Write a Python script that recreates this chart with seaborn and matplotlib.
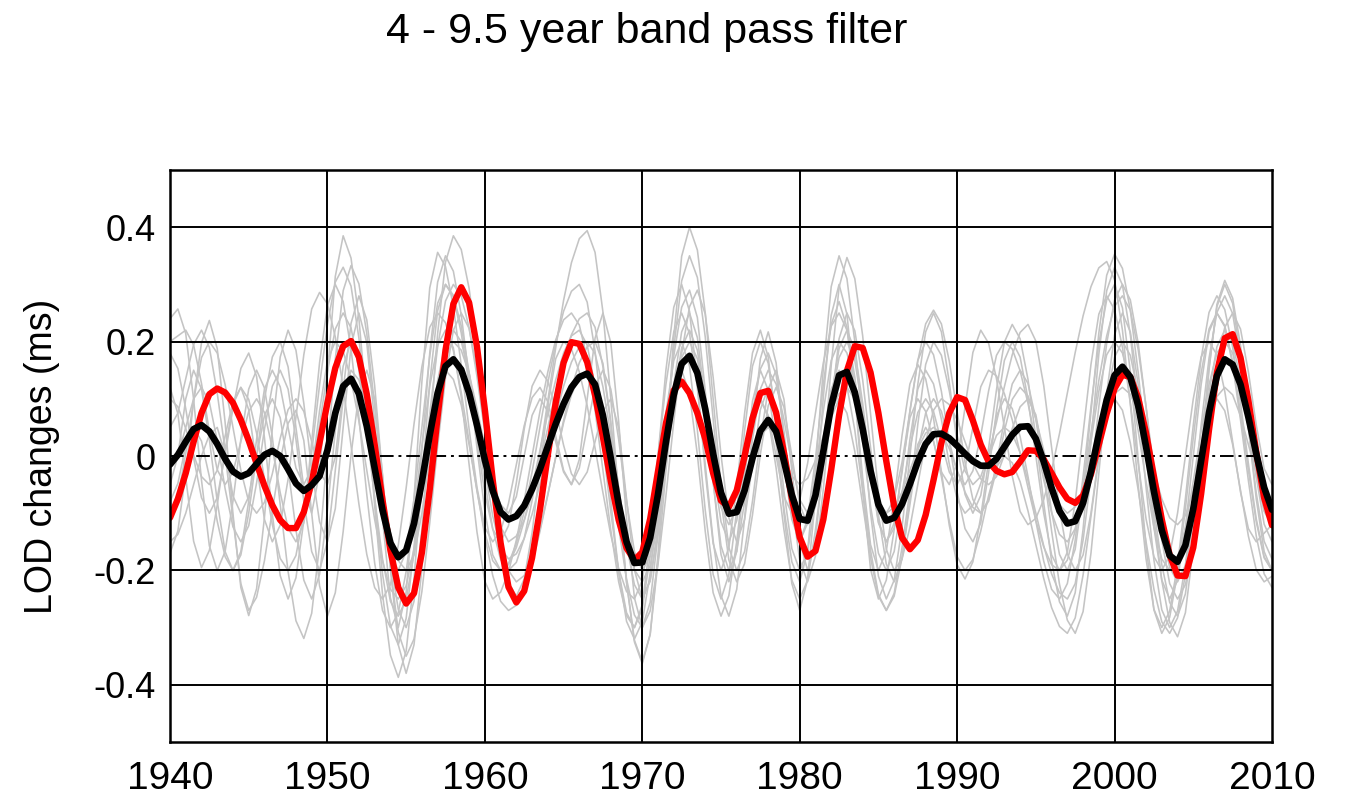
import numpy as np
import pandas as pd
import matplotlib
matplotlib.use("Agg")
import matplotlib.pyplot as plt
import seaborn as sns

# ---------------------------------------------------------------------------
# Band-passed (4 - 9.5 yr) LOD changes, sampled every half year, 1940-2010
# ---------------------------------------------------------------------------
START_YEAR = 1940.0
STEP = 0.5

# Ensemble mean (black)
lod_mean = [
    -0.015, 0.002, 0.025, 0.047, 0.054, 0.043, 0.021, -0.005, -0.027, -0.036,
    -0.030, -0.014, 0.002, 0.009, 0.000, -0.023, -0.048, -0.061, -0.051, -0.035,
    0.010, 0.075, 0.122, 0.135, 0.109, 0.052, -0.022, -0.095, -0.152, -0.177,
    -0.165, -0.118, -0.045, 0.037, 0.110, 0.157, 0.169, 0.151, 0.110, 0.054,
    -0.007, -0.061, -0.098, -0.111, -0.105, -0.087, -0.058, -0.023, 0.017, 0.056,
    0.091, 0.120, 0.138, 0.144, 0.125, 0.071, -0.004, -0.084, -0.150, -0.187,
    -0.186, -0.143, -0.067, 0.024, 0.107, 0.161, 0.175, 0.145, 0.082, 0.004,
    -0.064, -0.101, -0.098, -0.060, -0.004, 0.044, 0.063, 0.043, -0.009, -0.068,
    -0.110, -0.113, -0.069, 0.008, 0.088, 0.141, 0.147, 0.111, 0.047, -0.026,
    -0.085, -0.113, -0.108, -0.084, -0.049, -0.010, 0.021, 0.038, 0.039, 0.031,
    0.018, 0.004, -0.009, -0.017, -0.017, -0.005, 0.016, 0.037, 0.051, 0.052,
    0.030, -0.010, -0.056, -0.096, -0.118, -0.114, -0.082, -0.027, 0.038, 0.098,
    0.141, 0.156, 0.138, 0.088, 0.016, -0.062, -0.130, -0.174, -0.185, -0.156,
    -0.092, -0.008, 0.076, 0.140, 0.169, 0.160, 0.125, 0.068, 0.004, -0.055,
    -0.094,
]

# Observed LOD (red)
lod_observed = [
    -0.108, -0.075, -0.030, 0.025, 0.075, 0.108, 0.118, 0.111, 0.093, 0.063,
    0.027, -0.013, -0.052, -0.086, -0.112, -0.126, -0.126, -0.098, -0.046, 0.023,
    0.093, 0.154, 0.192, 0.201, 0.173, 0.108, 0.020, -0.077, -0.165, -0.230,
    -0.258, -0.240, -0.169, -0.058, 0.069, 0.185, 0.266, 0.295, 0.268, 0.191,
    0.081, -0.042, -0.152, -0.229, -0.256, -0.236, -0.178, -0.094, 0.002, 0.093,
    0.163, 0.199, 0.196, 0.164, 0.106, 0.033, -0.044, -0.112, -0.161, -0.182,
    -0.168, -0.110, -0.027, 0.057, 0.115, 0.130, 0.110, 0.075, 0.030, -0.030,
    -0.078, -0.089, -0.060, 0.000, 0.066, 0.110, 0.114, 0.076, 0.006, -0.074,
    -0.142, -0.176, -0.166, -0.111, -0.024, 0.071, 0.149, 0.192, 0.189, 0.146,
    0.075, -0.009, -0.088, -0.143, -0.163, -0.147, -0.103, -0.042, 0.023, 0.075,
    0.103, 0.098, 0.062, 0.020, -0.010, -0.026, -0.032, -0.028, -0.010, 0.010,
    0.009, -0.006, -0.030, -0.055, -0.075, -0.082, -0.069, -0.032, 0.020, 0.074,
    0.118, 0.142, 0.138, 0.102, 0.040, -0.036, -0.111, -0.173, -0.209, -0.210,
    -0.160, -0.066, 0.046, 0.146, 0.206, 0.213, 0.172, 0.097, 0.007, -0.073,
    -0.121,
]

# Individual ensemble members (grey)
member_01 = [
    -0.05, 0.00, 0.10, 0.15, 0.117, 0.029, -0.079, -0.167, -0.20,
    -0.173, -0.10, 0.00, 0.10, 0.173, 0.20, 0.156, 0.05, -0.056, -0.10,
    -0.029, 0.143, 0.314, 0.385, 0.346, 0.240, 0.085, -0.087, -0.242, -0.348, -0.387,
    -0.341, -0.215, -0.044, 0.128, 0.254, 0.30,
    0.281, 0.227, 0.146, 0.05, -0.046, -0.127, -0.181, -0.20,
    -0.186, -0.144, -0.078, 0.005, 0.097, 0.189, 0.272, 0.338, 0.380, 0.394,
    0.356, 0.252, 0.100, -0.069, -0.221, -0.325, -0.363,
    -0.312, -0.172, 0.019, 0.209, 0.349, 0.40,
    0.36, 0.25, 0.10, -0.05, -0.16, -0.20,
    -0.167, -0.079, 0.029, 0.117, 0.15, 0.099, -0.025, -0.149, -0.20,
    -0.148, -0.011, 0.158, 0.295, 0.347, 0.310, 0.210, 0.074, -0.063, -0.163, -0.20,
    -0.18, -0.125, -0.05, 0.025, 0.08, 0.10, 0.09, 0.063, 0.025, -0.013, -0.04, -0.05,
    -0.036, 0.002, 0.048, 0.086, 0.10, 0.072, -0.004, -0.097, -0.172, -0.20,
    -0.163, -0.062, 0.077, 0.215, 0.316, 0.353,
    0.328, 0.255, 0.146, 0.019, -0.109, -0.218, -0.291, -0.316,
    -0.274, -0.160, -0.005, 0.151, 0.265, 0.307,
    0.276, 0.193, 0.079, -0.036, -0.119, -0.15,
]
member_02 = [
    0.24, 0.257, 0.214, 0.099, -0.042, -0.157, -0.20,
    -0.167, -0.079, 0.029, 0.117, 0.15,
    0.119, 0.033, -0.085, -0.202, -0.288, -0.319,
    -0.275, -0.156, 0.007, 0.170, 0.289, 0.333,
    0.301, 0.214, 0.087, -0.054, -0.181, -0.268, -0.30,
    -0.254, -0.129, 0.043, 0.214, 0.339, 0.385,
    0.361, 0.293, 0.190, 0.07, -0.050, -0.153, -0.221, -0.245,
    -0.215, -0.134, -0.023, 0.089, 0.170, 0.20,
    0.187, 0.147, 0.088, 0.014, -0.064, -0.138, -0.197, -0.237, -0.25,
    -0.217, -0.125, 0.0, 0.125, 0.217, 0.25,
    0.214, 0.118, -0.015, -0.148, -0.244, -0.28,
    -0.233, -0.109, 0.046, 0.170, 0.217, 0.163, 0.034, -0.096, -0.15,
    -0.117, -0.029, 0.079, 0.167, 0.20, 0.18, 0.125, 0.05, -0.025, -0.08, -0.10,
    -0.076, -0.011, 0.078, 0.166, 0.231, 0.255, 0.231, 0.166, 0.078, -0.011, -0.076, -0.10,
    -0.076, -0.014, 0.064, 0.126, 0.15,
    0.127, 0.064, -0.029, -0.131, -0.224, -0.287, -0.31,
    -0.272, -0.17, -0.03, 0.11, 0.212, 0.25,
    0.217, 0.125, 0.0, -0.125, -0.217, -0.25,
    -0.217, -0.125, 0.0, 0.125, 0.217, 0.25,
    0.226, 0.160, 0.063, -0.043, -0.140, -0.206, -0.23,
]
member_03 = [
    -0.17, -0.131, -0.030, 0.097, 0.198, 0.237,
    0.188, 0.059, -0.101, -0.230, -0.279,
    -0.232, -0.107, 0.048, 0.173, 0.22,
    0.185, 0.092, -0.022, -0.115, -0.15,
    -0.092, 0.05, 0.192, 0.25,
    0.198, 0.06, -0.110, -0.248, -0.30,
    -0.238, -0.074, 0.130, 0.294, 0.356,
    0.331, 0.261, 0.159, 0.047, -0.055, -0.125, -0.15,
    -0.132, -0.083, -0.015, 0.053, 0.102, 0.12,
    0.095, 0.035, -0.025, -0.05, -0.006, 0.10, 0.206, 0.25,
    0.198, 0.06, -0.110, -0.248, -0.30,
    -0.271, -0.189, -0.070, 0.060, 0.179, 0.261, 0.29,
    0.248, 0.138, 0.002, -0.108, -0.15,
    -0.111, -0.015, 0.081, 0.12, 0.081, -0.015, -0.111, -0.15,
    -0.110, -0.005, 0.125, 0.230, 0.27,
    0.225, 0.108, -0.038, -0.155, -0.20,
    -0.166, -0.076, 0.036, 0.126, 0.16,
    0.135, 0.066, -0.028, -0.121, -0.19, -0.215,
    -0.185, -0.106, -0.009, 0.070, 0.10,
    0.083, 0.034, -0.036, -0.114, -0.184, -0.233, -0.25,
    -0.223, -0.147, -0.036, 0.086, 0.197, 0.273, 0.30,
    0.259, 0.148, -0.005, -0.158, -0.269, -0.31,
    -0.282, -0.205, -0.092, 0.032, 0.145, 0.222, 0.25,
    0.228, 0.165, 0.075, -0.025, -0.115, -0.178, -0.20,
]
member_04 = [
    0.12, 0.074, -0.038, -0.149, -0.195,
    -0.165, -0.086, 0.011, 0.090, 0.12,
    0.081, -0.015, -0.111, -0.15,
    -0.121, -0.041, 0.068, 0.177, 0.257, 0.286,
    0.266, 0.208, 0.120, 0.018, -0.084, -0.172, -0.230, -0.25,
    -0.225, -0.156, -0.056, 0.056, 0.156, 0.225, 0.25,
    0.233, 0.184, 0.111, 0.025, -0.061, -0.134, -0.183, -0.20,
    -0.190, -0.160, -0.113, -0.055, 0.01, 0.075, 0.133, 0.180, 0.210, 0.22,
    0.194, 0.122, 0.018, -0.098, -0.202, -0.274, -0.30,
    -0.267, -0.175, -0.05, 0.075, 0.167, 0.20,
    0.157, 0.045, -0.095, -0.207, -0.25,
    -0.207, -0.095, 0.045, 0.157, 0.20,
    0.162, 0.062, -0.062, -0.162, -0.20,
    -0.167, -0.079, 0.029, 0.117, 0.15,
    0.122, 0.045, -0.06, -0.165, -0.242, -0.27,
    -0.245, -0.178, -0.085, 0.008, 0.075, 0.10,
    0.078, 0.025, -0.028, -0.05,
    -0.026, 0.036, 0.114, 0.176, 0.20,
    0.187, 0.149, 0.092, 0.025, -0.042, -0.099, -0.137, -0.15,
    -0.127, -0.063, 0.025, 0.113, 0.177, 0.20,
    0.18, 0.125, 0.044, -0.044, -0.125, -0.18, -0.20,
    -0.18, -0.125, -0.044, 0.044, 0.125, 0.18, 0.20,
    0.18, 0.125, 0.05, -0.025, -0.08, -0.10,
]
member_05 = [
    -0.10, -0.072, 0.004, 0.097, 0.172, 0.20,
    0.18, 0.125, 0.05, -0.025, -0.08, -0.10,
    -0.081, -0.031, 0.031, 0.081, 0.10,
    0.078, 0.025, -0.028, -0.05,
    -0.002, 0.115, 0.232, 0.28,
    0.238, 0.123, -0.035, -0.193, -0.308, -0.35,
    -0.32, -0.237, -0.117, 0.017, 0.137, 0.22, 0.25,
    0.223, 0.15, 0.05, -0.05, -0.123, -0.15,
    -0.140, -0.112, -0.068, -0.012, 0.05, 0.112, 0.168, 0.212, 0.240, 0.25,
    0.225, 0.156, 0.056, -0.056, -0.156, -0.225, -0.25,
    -0.219, -0.133, -0.015, 0.103, 0.189, 0.22,
    0.185, 0.092, -0.022, -0.115, -0.15,
    -0.113, -0.025, 0.063, 0.10,
    0.071, 0.0, -0.071, -0.10,
    -0.077, -0.013, 0.075, 0.163, 0.227, 0.25,
    0.22, 0.138, 0.025, -0.088, -0.17, -0.20,
    -0.167, -0.079, 0.029, 0.117, 0.15,
    0.126, 0.064, -0.014, -0.076, -0.10,
    -0.086, -0.048, -0.002, 0.036, 0.05,
    0.039, 0.006, -0.043, -0.10, -0.157, -0.206, -0.239, -0.25,
    -0.223, -0.147, -0.036, 0.086, 0.197, 0.273, 0.30,
    0.273, 0.197, 0.086, -0.036, -0.147, -0.223, -0.25,
    -0.225, -0.156, -0.056, 0.056, 0.156, 0.225, 0.25,
    0.222, 0.147, 0.054, -0.022, -0.05,
]
member_06 = [
    0.05, 0.075, 0.135, 0.195, 0.22,
    0.190, 0.110, 0.010, -0.070, -0.10,
    -0.071, 0.0, 0.071, 0.10,
    0.067, -0.021, -0.129, -0.217, -0.25,
    -0.207, -0.095, 0.045, 0.157, 0.20,
    0.173, 0.10, 0.0, -0.10, -0.173, -0.20,
    -0.167, -0.075, 0.05, 0.175, 0.267, 0.30,
    0.278, 0.215, 0.125, 0.025, -0.065, -0.128, -0.15,
    -0.122, -0.047, 0.047, 0.122, 0.15,
    0.131, 0.081, 0.019, -0.031, -0.05,
    -0.028, 0.025, 0.078, 0.10,
    0.049, -0.075, -0.199, -0.25,
    -0.217, -0.125, 0.0, 0.125, 0.217, 0.25,
    0.207, 0.095, -0.045, -0.157, -0.20,
    -0.167, -0.079, 0.029, 0.117, 0.15,
    0.126, 0.064, -0.014, -0.076, -0.10,
    -0.072, 0.004, 0.097, 0.172, 0.20,
    0.167, 0.079, -0.029, -0.117, -0.15,
    -0.117, -0.029, 0.079, 0.167, 0.20,
    0.177, 0.113, 0.025, -0.063, -0.127, -0.15,
    -0.117, -0.029, 0.079, 0.167, 0.20,
    0.173, 0.10, 0.0, -0.10, -0.173, -0.20,
    -0.168, -0.08, 0.04, 0.16, 0.248, 0.28,
    0.256, 0.19, 0.093, -0.013, -0.11, -0.176, -0.20,
    -0.173, -0.10, 0.0, 0.10, 0.173, 0.20,
    0.177, 0.113, 0.025, -0.063, -0.127, -0.15,
    -0.135, -0.12,
]
member_07 = [
    0.18, 0.153, 0.083, -0.003, -0.073, -0.10,
    -0.073, 0.003, 0.083, 0.153, 0.18,
    0.139, 0.032, -0.102, -0.209, -0.25,
    -0.213, -0.113, 0.025, 0.163, 0.263, 0.30,
    0.27, 0.187, 0.067, -0.067, -0.187, -0.27, -0.30,
    -0.274, -0.202, -0.098, 0.018, 0.122, 0.194, 0.22,
    0.189, 0.103, -0.015, -0.133, -0.219, -0.25,
    -0.238, -0.203, -0.147, -0.078, 0.0, 0.078, 0.147, 0.203, 0.238, 0.25,
    0.229, 0.170, 0.080, -0.025, -0.130, -0.220, -0.279, -0.30,
    -0.26, -0.15, 0.0, 0.15, 0.26, 0.30,
    0.253, 0.128, -0.028, -0.153, -0.20,
    -0.160, -0.055, 0.075, 0.180, 0.22,
    0.173, 0.051, -0.101, -0.223, -0.27,
    -0.216, -0.073, 0.103, 0.246, 0.30,
    0.248, 0.11, -0.06, -0.198, -0.25,
    -0.217, -0.129, -0.021, 0.067, 0.10,
    0.078, 0.025, -0.028, -0.05,
    -0.011, 0.085, 0.181, 0.22,
    0.197, 0.135, 0.05, -0.035, -0.097, -0.12,
    -0.109, -0.076, -0.025, 0.039, 0.11, 0.181, 0.245, 0.296, 0.329, 0.34,
    0.308, 0.22, 0.091, -0.051, -0.18, -0.268, -0.30,
    -0.271, -0.191, -0.074, 0.054, 0.171, 0.251, 0.28,
    0.256, 0.19, 0.093, -0.013, -0.11, -0.176, -0.20,
]
member_08 = [
    -0.02, 0.0, 0.05, 0.10, 0.12,
    0.094, 0.027, -0.057, -0.124, -0.15,
    -0.122, -0.047, 0.047, 0.122, 0.15,
    0.117, 0.029, -0.079, -0.167, -0.20,
    -0.149, -0.025, 0.099, 0.15,
    0.133, 0.084, 0.014, -0.064, -0.134, -0.183, -0.20,
    -0.173, -0.10, 0.0, 0.10, 0.173, 0.20,
    0.185, 0.144, 0.083, 0.017, -0.044, -0.085, -0.10,
    -0.071, 0.0, 0.071, 0.10,
    0.078, 0.025, -0.028, -0.05,
    -0.021, 0.05, 0.121, 0.15,
    0.117, 0.029, -0.079, -0.167, -0.20,
    -0.175, -0.105, -0.01, 0.085, 0.155, 0.18,
    0.153, 0.083, -0.003, -0.073, -0.10,
    -0.086, -0.048, -0.002, 0.036, 0.05,
    0.035, 0.0, -0.035, -0.05,
    -0.039, -0.008, 0.035, 0.078, 0.109, 0.12,
    0.099, 0.044, -0.024, -0.079, -0.10,
    -0.09, -0.063, -0.025, 0.013, 0.04, 0.05,
    0.04, 0.013, -0.025, -0.063, -0.09, -0.10,
    -0.079, -0.024, 0.044, 0.099, 0.12,
    0.105, 0.065, 0.01, -0.045, -0.085, -0.10,
    -0.089, -0.059, -0.014, 0.034, 0.079, 0.109, 0.12,
    0.108, 0.075, 0.027, -0.027, -0.075, -0.108, -0.12,
    -0.104, -0.06, 0.0, 0.06, 0.104, 0.12,
    0.107, 0.07, 0.02, -0.03, -0.067, -0.08,
]
member_09 = [
    0.20, 0.21, 0.22,
    0.194, 0.127, 0.043, -0.024, -0.05,
    -0.028, 0.025, 0.078, 0.10,
    0.076, 0.014, -0.064, -0.126, -0.15,
    -0.117, -0.029, 0.079, 0.167, 0.20,
    0.183, 0.134, 0.061, -0.025, -0.111, -0.184, -0.233, -0.25,
    -0.227, -0.162, -0.067, 0.037, 0.132, 0.197, 0.22,
    0.20, 0.145, 0.064, -0.024, -0.105, -0.16, -0.18,
    -0.171, -0.144, -0.102, -0.049, 0.01, 0.069, 0.122, 0.164, 0.191, 0.20,
    0.179, 0.121, 0.037, -0.057, -0.141, -0.199, -0.22,
    -0.192, -0.115, -0.01, 0.095, 0.172, 0.20,
    0.17, 0.09, -0.01, -0.09, -0.12,
    -0.092, -0.017, 0.077, 0.152, 0.18,
    0.142, 0.042, -0.082, -0.182, -0.22,
    -0.175, -0.058, 0.088, 0.205, 0.25,
    0.219, 0.133, 0.015, -0.103, -0.189, -0.22,
    -0.18, -0.075, 0.055, 0.16, 0.20,
    0.176, 0.114, 0.036, -0.026, -0.05,
    -0.036, 0.003, 0.059, 0.121, 0.177, 0.216, 0.23,
    0.201, 0.123, 0.015, -0.093, -0.171, -0.20,
    -0.173, -0.10, 0.0, 0.10, 0.173, 0.20,
    0.176, 0.11, 0.013, -0.093, -0.19, -0.256, -0.28,
    -0.241, -0.135, 0.01, 0.155, 0.261, 0.30,
    0.267, 0.175, 0.05, -0.075, -0.167, -0.20,
]
member_10 = [
    -0.15, -0.137, -0.10, -0.05, 0.0, 0.037, 0.05,
    0.003, -0.11, -0.223, -0.27,
    -0.247, -0.183, -0.095, -0.008, 0.057, 0.08,
    0.027, -0.10, -0.227, -0.28,
    -0.239, -0.132, 0.002, 0.109, 0.15,
    0.10, -0.033, -0.197, -0.33, -0.38,
    -0.33, -0.197, -0.033, 0.10, 0.15,
    0.134, 0.089, 0.02, -0.06, -0.14, -0.209, -0.254, -0.27,
    -0.261, -0.233, -0.189, -0.132, -0.068, -0.002, 0.062, 0.119, 0.163, 0.191, 0.20,
    0.162, 0.06, -0.08, -0.22, -0.322, -0.36,
    -0.312, -0.184, -0.026, 0.102, 0.15,
    0.109, 0.002, -0.132, -0.239, -0.28,
    -0.244, -0.149, -0.031, 0.064, 0.10,
    0.067, -0.021, -0.129, -0.217, -0.25,
    -0.217, -0.129, -0.021, 0.067, 0.10,
    0.075, 0.008, -0.085, -0.178, -0.245, -0.27,
    -0.24, -0.16, -0.06, 0.02, 0.05,
    0.026, -0.036, -0.114, -0.176, -0.20,
    -0.181, -0.131, -0.069, -0.019, 0.0,
    -0.012, -0.045, -0.096, -0.155, -0.214, -0.265, -0.298, -0.31,
    -0.283, -0.208, -0.105, -0.003, 0.073, 0.10,
    0.08, 0.023, -0.059, -0.15, -0.233, -0.29, -0.31,
    -0.283, -0.208, -0.105, -0.003, 0.073, 0.10,
    0.079, 0.02, -0.06, -0.14, -0.199, -0.22,
    -0.21,
]
member_11 = [
    0.10, 0.086, 0.048, 0.002, -0.036, -0.05,
    -0.025, 0.035, 0.095, 0.12,
    0.099, 0.04, -0.04, -0.12, -0.179, -0.20,
    -0.174, -0.10, 0.006, 0.124, 0.23, 0.304, 0.33,
    0.297, 0.206, 0.073, -0.073, -0.206, -0.297, -0.33,
    -0.284, -0.16, 0.01, 0.18, 0.304, 0.35,
    0.323, 0.247, 0.136, 0.014, -0.097, -0.173, -0.20,
    -0.188, -0.153, -0.097, -0.028, 0.05, 0.128, 0.197, 0.253, 0.288, 0.30,
    0.269, 0.183, 0.059, -0.079, -0.203, -0.289, -0.32,
    -0.29, -0.205, -0.083, 0.053, 0.175, 0.26, 0.29,
    0.242, 0.114, -0.044, -0.172, -0.22,
    -0.166, -0.035, 0.096, 0.15,
    0.115, 0.022, -0.092, -0.185, -0.22,
    -0.166, -0.023, 0.153, 0.296, 0.35,
    0.31, 0.20, 0.05, -0.10, -0.21, -0.25,
    -0.217, -0.125, 0.0, 0.125, 0.217, 0.25,
    0.217, 0.129, 0.021, -0.067, -0.10,
    -0.069, 0.014, 0.116, 0.199, 0.23,
    0.205, 0.134, 0.032, -0.082, -0.184, -0.255, -0.28,
    -0.239, -0.128, 0.025, 0.178, 0.289, 0.33,
    0.299, 0.212, 0.085, -0.055, -0.182, -0.269, -0.30,
    -0.271, -0.191, -0.074, 0.054, 0.171, 0.251, 0.28,
    0.249, 0.165, 0.05, -0.065, -0.149, -0.18,
]
member_12 = [
    -0.08, -0.048, 0.018, 0.05,
    0.026, -0.036, -0.114, -0.176, -0.20,
    -0.167, -0.079, 0.029, 0.117, 0.15,
    0.121, 0.05, -0.021, -0.05,
    -0.022, 0.054, 0.147, 0.222, 0.25,
    0.224, 0.15, 0.044, -0.074, -0.18, -0.254, -0.28,
    -0.251, -0.171, -0.054, 0.074, 0.191, 0.271, 0.30,
    0.28, 0.224, 0.139, 0.04, -0.059, -0.144, -0.2, -0.22,
    -0.209, -0.177, -0.128, -0.067, -0.003, 0.058, 0.107, 0.139, 0.15,
    0.128, 0.065, -0.025, -0.125, -0.215, -0.278, -0.30,
    -0.256, -0.138, 0.025, 0.188, 0.306, 0.35,
    0.312, 0.208, 0.065, -0.078, -0.182, -0.22,
    -0.188, -0.103, 0.003, 0.088, 0.12,
    0.085, 0.0, -0.085, -0.12,
    -0.088, -0.003, 0.103, 0.188, 0.22,
    0.185, 0.092, -0.022, -0.115, -0.15,
    -0.126, -0.064, 0.014, 0.076, 0.10,
    0.078, 0.025, -0.028, -0.05,
    -0.021, 0.05, 0.121, 0.15,
    0.14, 0.109, 0.063, 0.005, -0.055, -0.113, -0.159, -0.19, -0.20,
    -0.182, -0.13, -0.052, 0.04, 0.132, 0.21, 0.262, 0.28,
    0.255, 0.186, 0.086, -0.026, -0.126, -0.195, -0.22,
    -0.191, -0.11, 0.0, 0.11, 0.191, 0.22,
    0.197, 0.135, 0.05, -0.035, -0.097, -0.12,
]

ensemble_members = [
    member_01, member_02, member_03, member_04, member_05, member_06,
    member_07, member_08, member_09, member_10, member_11, member_12,
]

x_ticks = [1940, 1950, 1960, 1970, 1980, 1990, 2000, 2010]
y_ticks = [-0.4, -0.2, 0.0, 0.2, 0.4]
y_tick_labels = ["-0.4", "-0.2", "0", "0.2", "0.4"]

title_text = "4 - 9.5 year band pass filter"
y_label = "LOD changes (ms)"


def sample_years(values):
    return START_YEAR + STEP * np.arange(len(values))


# Long-form table of the ensemble members for seaborn
members_df = pd.concat(
    [
        pd.DataFrame({"year": sample_years(m), "lod": m, "member": i})
        for i, m in enumerate(ensemble_members)
    ],
    ignore_index=True,
)
mean_df = pd.DataFrame({"year": sample_years(lod_mean), "lod": lod_mean})
obs_df = pd.DataFrame({"year": sample_years(lod_observed), "lod": lod_observed})

# ---------------------------------------------------------------------------
# Figure
# ---------------------------------------------------------------------------
sns.set_theme(style="white")
plt.rcParams["font.family"] = ["Liberation Sans", "DejaVu Sans"]
plt.rcParams["lines.solid_joinstyle"] = "round"
plt.rcParams["lines.solid_capstyle"] = "round"

fig = plt.figure(figsize=(13.45, 8.0), dpi=100)
ax = fig.add_axes([170 / 1345, 1 - 742 / 800, (1272 - 170) / 1345, (742 - 170) / 800])

sns.lineplot(
    data=members_df, x="year", y="lod", units="member", estimator=None,
    color="#c4c4c4", linewidth=1.15, ax=ax, legend=False, zorder=1,
)
sns.lineplot(data=obs_df, x="year", y="lod", color="#ff0000",
             linewidth=4.6, ax=ax, zorder=4)
sns.lineplot(data=mean_df, x="year", y="lod", color="black",
             linewidth=4.8, ax=ax, zorder=5)

ax.set_xlim(1940, 2010)
ax.set_ylim(-0.5, 0.5)
ax.set_xticks(x_ticks)
ax.set_xticklabels([str(t) for t in x_ticks])
ax.set_yticks(y_ticks)
ax.set_yticklabels(y_tick_labels)

# Grid: solid decade / 0.2 lines, dash-dot zero line, drawn above the grey members
ax.set_axisbelow(False)
ax.grid(False)
for xv in x_ticks[1:-1]:
    ax.axvline(xv, color="black", linewidth=1.4, zorder=2.5)
for yv in y_ticks:
    style = (0, (7, 2.5, 1.5, 2.5)) if yv == 0 else "-"
    ax.axhline(yv, color="black", linewidth=1.4, linestyle=style, zorder=2.5)

for spine in ax.spines.values():
    spine.set_color("black")
    spine.set_linewidth(1.8)
    spine.set_zorder(6)

ax.tick_params(axis="both", length=0, colors="black")
ax.tick_params(axis="x", labelsize=28, pad=14)
ax.tick_params(axis="y", labelsize=26, pad=10)
ax.set_xlabel("")
ax.set_ylabel(y_label, fontsize=27, labelpad=24, color="black")

fig.text(647 / 1345, 1 - 32 / 800, title_text, fontsize=31,
         ha="center", va="center", color="black")

fig.savefig("out.png", dpi=100)
